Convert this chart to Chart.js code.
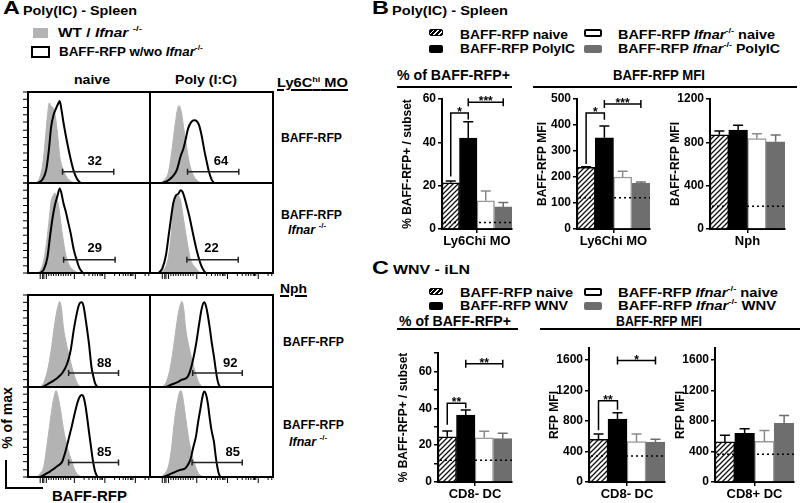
<!DOCTYPE html>
<html>
<head>
<meta charset="utf-8">
<script src="https://cdn.jsdelivr.net/npm/chart.js@4.4.1/dist/chart.umd.min.js"></script>
<style>
  body { margin: 0; width: 800px; height: 503px; position: relative; overflow: hidden; background: #fff;
         font-family: "Liberation Sans", Arial, sans-serif; font-weight: bold; color: #000; }
  .t { position: absolute; white-space: nowrap; line-height: 1; transform-origin: left top; }
  .u { text-decoration: underline; text-decoration-thickness: 2px; text-underline-offset: 2px; }
  .big { font-size: 18px; transform: scaleX(1.3); }
  .sp { font-size: 8px; position: relative; top: -6px; font-style: normal; }
  .sw { position: absolute; box-sizing: border-box; border-radius: 2px; }
  .ln { position: absolute; background: #000; }
  canvas { position: absolute; }
</style>
</head>
<body>

<!-- panel A -->
<div class="t big" style="left:3px;top:-1px">A</div>
<div class="t" data-w="114" style="left:23px;top:4px;font-size:13px">Poly(IC) - Spleen</div>
<div class="sw" style="left:33px;top:28px;width:15px;height:10px;background:#b3b3b3;border-radius:0"></div>
<div class="t" data-w="84" style="left:58px;top:27px;font-size:12.5px">WT / <i>Ifnar</i> <span class="sp">-/-</span></div>
<div class="sw" style="left:31px;top:46px;width:19px;height:12px;border:2px solid #000;border-radius:0"></div>
<div class="t" data-w="144" style="left:59px;top:46px;font-size:12.5px">BAFF-RFP w/wo <i>Ifnar</i><span class="sp">-/-</span></div>
<div class="t" data-w="36" style="left:74px;top:73px;font-size:13px">naive</div>
<div class="t" data-w="62" style="left:175px;top:73px;font-size:13px">Poly (I:C)</div>
<div class="t u" data-w="71" style="left:277px;top:76px;font-size:13px">Ly6C<span style="font-size:8px;position:relative;top:-5px">hi</span> MO</div>
<div class="t" data-w="61" style="left:281px;top:132px;font-size:12.5px">BAFF-RFP</div>
<div class="t" data-w="61" style="left:281px;top:209px;font-size:12.5px">BAFF-RFP</div>
<div class="t" style="left:288px;top:224px;font-size:12.5px"><i>Ifnar</i> <span class="sp">-/-</span></div>
<div class="t u" data-w="27" style="left:280px;top:282px;font-size:13px">Nph</div>
<div class="t" data-w="61" style="left:283px;top:336px;font-size:12.5px">BAFF-RFP</div>
<div class="t" data-w="61" style="left:283px;top:419px;font-size:12.5px">BAFF-RFP</div>
<div class="t" style="left:289px;top:436px;font-size:12.5px"><i>Ifnar</i> <span class="sp">-/-</span></div>
<div class="t" style="left:-25px;top:411px;font-size:14px;width:64px;text-align:center;transform:rotate(-90deg);transform-origin:center">% of max</div>
<div class="ln" style="left:5px;top:460px;width:2px;height:29px"></div>
<div class="ln" style="left:5px;top:487px;width:38px;height:2px"></div>
<div class="t" data-w="75" style="left:52px;top:489px;font-size:14px">BAFF-RFP</div>

<!-- panel B -->
<div class="t big" style="left:372px;top:-1px">B</div>
<div class="t" data-w="116" style="left:392px;top:4px;font-size:13px">Poly(IC) - Spleen</div>
<div class="sw" style="left:429px;top:29px;width:14px;height:7px;background:repeating-linear-gradient(135deg,#000 0 2.2px,#fff 2.2px 3.4px);border:1px solid #000"></div>
<div class="sw" style="left:429px;top:45px;width:14px;height:8px;background:#000"></div>
<div class="sw" style="left:584px;top:29px;width:18px;height:8px;border:2px solid #000"></div>
<div class="sw" style="left:584px;top:45px;width:18px;height:8px;background:#6e6e6e"></div>
<div class="t" data-w="108" style="left:460px;top:29px;font-size:12.5px">BAFF-RFP naive</div>
<div class="t" data-w="115" style="left:460px;top:43px;font-size:12.5px">BAFF-RFP PolyIC</div>
<div class="t" data-w="157" style="left:618px;top:29px;font-size:12.5px">BAFF-RFP <i>Ifnar</i><span class="sp">-/-</span> naive</div>
<div class="t" data-w="162" style="left:618px;top:43px;font-size:12.5px">BAFF-RFP <i>Ifnar</i><span class="sp">-/-</span> PolyIC</div>
<div class="t" data-w="113" style="left:397px;top:68px;font-size:14px">% of BAFF-RFP+</div>
<div class="ln" style="left:397px;top:86px;width:115px;height:2px"></div>
<div class="t" data-w="92" style="left:613px;top:68px;font-size:14px">BAFF-RFP MFI</div>
<div class="ln" style="left:533px;top:86px;width:264px;height:2px"></div>

<!-- panel C -->
<div class="t big" style="left:372px;top:259px">C</div>
<div class="t" data-w="77" style="left:393px;top:263px;font-size:13px">WNV - iLN</div>
<div class="sw" style="left:429px;top:288px;width:14px;height:7px;background:repeating-linear-gradient(135deg,#000 0 2.2px,#fff 2.2px 3.4px);border:1px solid #000"></div>
<div class="sw" style="left:429px;top:302px;width:14px;height:8px;background:#000"></div>
<div class="sw" style="left:584px;top:288px;width:18px;height:8px;border:2px solid #000"></div>
<div class="sw" style="left:584px;top:302px;width:18px;height:8px;background:#6e6e6e"></div>
<div class="t" data-w="113" style="left:460px;top:287px;font-size:12.5px">BAFF-RFP naive</div>
<div class="t" data-w="108" style="left:460px;top:300px;font-size:12.5px">BAFF-RFP WNV</div>
<div class="t" data-w="160" style="left:618px;top:287px;font-size:12.5px">BAFF-RFP <i>Ifnar</i><span class="sp">-/-</span> naive</div>
<div class="t" data-w="158" style="left:618px;top:300px;font-size:12.5px">BAFF-RFP <i>Ifnar</i><span class="sp">-/-</span> WNV</div>
<div class="t" data-w="112" style="left:399px;top:314px;font-size:14px">% of BAFF-RFP+</div>
<div class="ln" style="left:397px;top:328px;width:121px;height:2px"></div>
<div class="t" data-w="86" style="left:616px;top:314px;font-size:14px">BAFF-RFP MFI</div>
<div class="ln" style="left:540px;top:328px;width:260px;height:2px"></div>

<script>
// stretch each label to the width it has in the original figure
document.querySelectorAll('.t[data-w]').forEach(el => {
  const w = el.getBoundingClientRect().width;
  el.style.transform = 'scaleX(' + (+el.dataset.w / w).toFixed(3) + ')';
});

// ---- panel A: flow histograms, x = BAFF-RFP channel (display units 0-100), y = % of max
// grey = WT / Ifnar-/- control, black = BAFF-RFP (w/wo Ifnar-/-)
const lyRfpNaiveGrey  = [[6,0],[9,4],[12,20],[14,45],[16,75],[17.5,88],[19,84],[21,82],[23,68],[24.5,50],[26,30],[28,18],[31,8],[35,2],[40,0]];
const lyRfpNaiveBlack = [[8,0],[12,4],[15,15],[17,35],[19,62],[21,75],[23,82],[25,88],[26,90],[27.5,80],[29,67],[32,45],[35,26],[37.5,13],[40,5],[43,0]];
const lyRfpPicGrey    = [[9,0],[12,4],[15,12],[18,38],[20.5,65],[22.5,82],[23.6,85],[25.5,78],[28,55],[30,38],[32,22],[35,9],[39,2],[42,0]];
const lyRfpPicBlack   = [[10,0],[15,3],[19,8],[22,15],[25,30],[27,37],[29,48],[31,60],[33.5,67],[36,69],[38,68],[40,63],[42,52],[44,37],[46,24],[48,12],[50,4],[52,0]];
const lyKoNaiveGrey   = [[8,0],[11,5],[14,22],[17,55],[19,80],[21,87],[22,89],[23.5,84],[25,75],[27,55],[28.5,40],[31,20],[34,8],[37.5,3],[41,0]];
const lyKoNaiveBlack  = [[10,0],[13,4],[16,18],[18,40],[20,60],[22,75],[24,85],[26,94],[27.5,88],[29,78],[31,68],[33,56],[35,44],[37.5,26],[40,14],[42,6],[45,0]];
const lyKoPicGrey     = [[8,0],[12,5],[15,18],[17,40],[19,70],[21,83],[22,87],[23.5,85],[25,80],[27,62],[29,45],[31,28],[33,15],[37.5,5],[41,0]];
const lyKoPicBlack    = [[7,0],[10,5],[13,20],[15,40],[17,60],[19,78],[21,86],[23,88],[25,92],[26.5,90],[28,84],[30,74],[32,63],[34,50],[36,37],[38,25],[40,15],[42,7],[45,0]];
const nphRfpNaiveGrey  = [[10,0],[13,5],[16,18],[19,40],[21,60],[23,78],[25,90],[26,93],[27.5,85],[29,65],[31,50],[33,38],[35,27],[37.5,15],[40,5],[43,0]];
const nphRfpNaiveBlack = [[12,0],[16,3],[21,7],[25,11],[28,15],[32,25],[35,40],[37.5,62],[40,80],[42,90],[44,92],[45.5,88],[47,76],[48.5,62],[50,47],[52,22],[54,9],[55,4],[57,0]];
const nphRfpPicGrey    = [[10,0],[13,5],[16,18],[19,42],[21,62],[23,80],[25,91],[26,93],[27.5,84],[29,64],[31,48],[33,36],[35,25],[37.5,13],[40,4],[43,0]];
const nphRfpPicBlack   = [[13,0],[18,3],[22,5],[26,8],[30.5,11],[34,24],[37.5,47],[40,69],[42,85],[44,92],[45.5,88],[47,78],[48.5,65],[50,50],[52,33],[54,14],[55.5,4],[57,0]];
const nphKoNaiveGrey   = [[7,0],[10,4],[13,12],[15,30],[17.5,55],[19.5,75],[21.5,90],[23,96],[24.5,90],[26.5,76],[29,54],[32,35],[34,25],[36,17],[38,9],[40,4],[44,0]];
const nphKoNaiveBlack  = [[10,0],[14,3],[18,6],[21,9],[25,13],[28,17],[30,25],[32,35],[34,46],[36,57],[38,69],[40,80],[42,88],[44,91],[45.5,89],[47,80],[48.5,66],[50,50],[51.5,35],[53,20],[55,6],[57,0]];
const nphKoPicGrey     = [[9,0],[12,4],[15,12],[17.5,32],[19.5,58],[21.5,78],[23.5,92],[25,96],[26.5,90],[28,76],[30,56],[32,38],[34,26],[36,16],[38,8],[40,3],[44,0]];
const nphKoPicBlack    = [[11,0],[16,3],[21,6],[25,8],[28,9],[31,14],[33,20],[35,32],[37.5,46],[39,60],[41,76],[42.5,88],[44,95],[45.5,92],[47,82],[48.5,66],[50,52],[52,39],[53.5,22],[55.5,6],[57,0]];

// gates (channel range), gate % and where its number sits
const gateRange  = [[28.3,70.3],[30.5,72.2],[29.2,71.4],[30,71.7],[33.3,74.2],[34.7,75],[33.3,74.2],[34.2,75]];
const gateLevel  = [12.3,12.3,14.8,14.8,15.3,15.3,16,16];
const gatePct    = [32, 64, 29, 22, 88, 92, 85, 85];
const gateLabelX = [54.7, 57.8, 54.7, 50, 62.5, 65.3, 62.5, 67.2];
const gateLabelY = [24, 24, 27, 27, 26, 26, 27, 27];

const histYTicks = [0,8,17,25,33,42,50,58,67,75,83,92,100];
const histXMajor = [10,12,13,15,38,63,88];
const histXMinor = [17,19,21,23,25,27,29,31,33,35, 46,50,53,55,57,59,60,61, 71,75,78,80,82,84,85,86, 96,99];

// ---- panels B and C: bar charts (mean, SEM, dotted background level)
const groupsB = ['BAFF-RFP naive', 'BAFF-RFP PolyIC', 'BAFF-RFP Ifnar-/- naive', 'BAFF-RFP Ifnar-/- PolyIC'];
const groupsC = ['BAFF-RFP naive', 'BAFF-RFP WNV', 'BAFF-RFP Ifnar-/- naive', 'BAFF-RFP Ifnar-/- WNV'];

const pctLy6C     = [21.3, 42, 13, 10.2];
const pctLy6CSem  = [0.8, 7.5, 4.5, 2];
const pctLy6CBg   = 3;
const mfiLy6C     = [237, 351, 200, 176];
const mfiLy6CSem  = [2, 45, 22, 5];
const mfiLy6CBg   = 120;
const mfiNph      = [870, 912, 834, 805];
const mfiNphSem   = [35, 45, 45, 63];
const mfiNphBg    = 210;

const pctCD8n     = [24.5, 36.3, 24, 23.5];
const pctCD8nSem  = [3.2, 2.8, 3.5, 3];
const pctCD8nBg   = 11.8;
const mfiCD8n     = [562, 825, 530, 525];
const mfiCD8nSem  = [70, 85, 100, 35];
const mfiCD8nBg   = 343;
const mfiCD8p     = [526, 640, 535, 770];
const mfiCD8pSem  = [88, 60, 140, 105];
const mfiCD8pBg   = 365;

// significance: groups a-b, bar level y, leg ends l0/l1 (hook) or capped bar (span)
const sigPctLy6C = [{a:0,b:1,y:53.5,l0:24.2,l1:50.5,kind:'hook',txt:'*'}, {a:1,b:3,y:58.5,kind:'span',txt:'***'}];
const sigMfiLy6C = [{a:0,b:1,y:446,l0:250,l1:420,kind:'hook',txt:'*'}, {a:1,b:3,y:481,kind:'span',txt:'***'}];
const sigPctCD8n = [{a:0,b:1,y:42.8,l0:31,l1:40,kind:'hook',txt:'**'}, {a:1,b:3,y:64.2,kind:'span',txt:'**'}];
const sigMfiCD8n = [{a:0,b:1,y:1068,l0:680,l1:950,kind:'hook',txt:'**'}, {a:1,b:3,y:1595,kind:'span',txt:'*'}];

const F = '"Liberation Sans", Arial, sans-serif';

function addCanvas(x, y, w, h) {
  const c = document.createElement('canvas');
  c.width = w; c.height = h;
  c.style.left = x + 'px'; c.style.top = y + 'px';
  document.body.appendChild(c);
  return c;
}

function histCell(k, box, grey, black, leftTicks, bottomTicks) {
  const [cx, cy, cw, ch] = box;
  const c = addCanvas(cx - 8, cy - 2, cw + 10, ch + 10);
  const pts = a => a.map(p => ({x: p[0], y: p[1]}));
  new Chart(c, {
    type: 'line',
    data: {
      datasets: [
        {data: pts(black), borderColor: '#000', borderWidth: 2, fill: false, pointRadius: 0, cubicInterpolationMode: 'monotone'},
        {data: pts(grey), borderColor: '#b3b3b3', backgroundColor: '#b3b3b3', borderWidth: 1, fill: 'origin', pointRadius: 0, cubicInterpolationMode: 'monotone'}
      ]
    },
    options: {
      responsive: false, animation: false,
      layout: {padding: {left: 8, top: 2, right: 2, bottom: 8}},
      plugins: {legend: {display: false}, tooltip: {enabled: false}},
      scales: {
        x: {type: 'linear', min: 0, max: 100, display: false},
        y: {min: 0, max: 100, display: false}
      }
    },
    plugins: [{
      id: 'gate' + k,
      afterDatasetsDraw(chart) {
        const {ctx, chartArea: a, scales: {x, y}} = chart;
        ctx.save();
        ctx.strokeStyle = '#222'; ctx.lineWidth = 1.5;
        const gy = y.getPixelForValue(gateLevel[k]);
        const g0 = x.getPixelForValue(gateRange[k][0]), g1 = x.getPixelForValue(gateRange[k][1]);
        ctx.beginPath();
        ctx.moveTo(g0, gy); ctx.lineTo(g1, gy);
        ctx.moveTo(g0, gy - 3); ctx.lineTo(g0, gy + 3);
        ctx.moveTo(g1, gy - 3); ctx.lineTo(g1, gy + 3);
        ctx.stroke();
        ctx.fillStyle = '#000'; ctx.font = 'bold 13px ' + F;
        ctx.textAlign = 'center'; ctx.textBaseline = 'middle';
        ctx.fillText(gatePct[k], x.getPixelForValue(gateLabelX[k]), y.getPixelForValue(gateLabelY[k]));
        ctx.lineWidth = 2; ctx.strokeStyle = '#000';
        ctx.strokeRect(a.left, a.top, a.right - a.left, a.bottom - a.top);
        ctx.lineWidth = 1;
        ctx.beginPath();
        if (leftTicks) histYTicks.forEach(v => { const py = y.getPixelForValue(v); ctx.moveTo(a.left - 5, py); ctx.lineTo(a.left, py); });
        if (bottomTicks) {
          histXMajor.forEach(v => { const px = x.getPixelForValue(v); ctx.moveTo(px, a.bottom); ctx.lineTo(px, a.bottom + 6); });
          histXMinor.forEach(v => { const px = x.getPixelForValue(v); ctx.moveTo(px, a.bottom); ctx.lineTo(px, a.bottom + 3); });
        }
        ctx.stroke();
        ctx.restore();
      }
    }]
  });
}

histCell(0, [28, 92, 122, 91],  lyRfpNaiveGrey,  lyRfpNaiveBlack,  true,  false);
histCell(1, [150, 92, 123, 91], lyRfpPicGrey,    lyRfpPicBlack,    false, false);
histCell(2, [28, 183, 122, 90], lyKoNaiveGrey,   lyKoNaiveBlack,   true,  true);
histCell(3, [150, 183, 123, 90], lyKoPicGrey,    lyKoPicBlack,     false, true);
histCell(4, [28, 295, 122, 92], nphRfpNaiveGrey, nphRfpNaiveBlack, true,  false);
histCell(5, [150, 295, 123, 92], nphRfpPicGrey,  nphRfpPicBlack,   false, false);
histCell(6, [28, 387, 122, 90], nphKoNaiveGrey,  nphKoNaiveBlack,  true,  true);
histCell(7, [150, 387, 123, 90], nphKoPicGrey,   nphKoPicBlack,    false, true);

// hatched fill for the naive bars
function hatch() {
  const p = document.createElement('canvas');
  p.width = 5; p.height = 5;
  const g = p.getContext('2d');
  g.fillStyle = '#fff'; g.fillRect(0, 0, 5, 5);
  g.strokeStyle = '#111'; g.lineWidth = 1.3;
  g.beginPath();
  g.moveTo(0, 5); g.lineTo(5, 0);
  g.moveTo(-1, 1); g.lineTo(1, -1);
  g.moveTo(4, 6); g.lineTo(6, 4);
  g.stroke();
  return g.createPattern(p, 'repeat');
}
const hatchFill = hatch();
const barStyle = [
  {backgroundColor: hatchFill, borderColor: '#000', borderWidth: 1.5},
  {backgroundColor: '#000', borderColor: '#000', borderWidth: 1},
  {backgroundColor: '#fff', borderColor: '#9a9a9a', borderWidth: 1.5},
  {backgroundColor: '#6e6e6e', borderColor: '#6e6e6e', borderWidth: 1}
];
const errColor = ['#000', '#000', '#8a8a8a', '#6e6e6e'];

function barChart(box, o) {
  const [x, y, w, h] = box;
  const c = addCanvas(x, y, w, h);
  new Chart(c, {
    type: 'bar',
    data: {
      labels: [o.cat],
      datasets: o.groups.map((n, i) => Object.assign({label: n, data: [o.vals[i]], categoryPercentage: 1, barPercentage: 1}, barStyle[i]))
    },
    options: {
      responsive: false, animation: false,
      layout: {padding: {top: o.padTop, right: 4, left: 0, bottom: 0}},
      plugins: {legend: {display: false}, tooltip: {enabled: false}},
      scales: {
        x: {
          grid: {drawOnChartArea: false, offset: false, tickLength: 4, color: '#000', lineWidth: 1.5},
          border: {color: '#000', width: 2},
          ticks: {color: '#000', font: {family: F, size: 13, weight: 'bold'}, padding: 1},
          afterFit: s => { s.height = o.xH; }
        },
        y: {
          min: 0, max: o.max,
          afterBuildTicks: s => { s.ticks = o.ticks.map(v => ({value: v})); },
          ticks: {color: '#000', font: {family: F, size: 12, weight: 'bold'}, padding: 2,
                  callback: v => o.labeled.includes(v) ? v : ''},
          grid: {drawOnChartArea: false, tickLength: 4, color: '#000', lineWidth: 1.5},
          border: {color: '#000', width: 2},
          title: {display: true, text: o.title, color: '#000', font: {family: F, size: 12, weight: 'bold'}, padding: {top: 2, bottom: 0}},
          afterFit: s => { s.width = o.yW; }
        }
      }
    },
    plugins: [{
      id: 'extras',
      afterDatasetsDraw(chart) {
        const {ctx, chartArea: a} = chart;
        const ys = chart.scales.y;
        ctx.save();
        // error bars (upper SEM)
        chart.data.datasets.forEach((ds, i) => {
          const bar = chart.getDatasetMeta(i).data[0];
          const y0 = ys.getPixelForValue(o.vals[i]), y1 = ys.getPixelForValue(o.vals[i] + o.sem[i]);
          ctx.strokeStyle = errColor[i]; ctx.lineWidth = 1.5;
          ctx.beginPath();
          ctx.moveTo(bar.x, y0); ctx.lineTo(bar.x, y1);
          ctx.moveTo(bar.x - 5, y1); ctx.lineTo(bar.x + 5, y1);
          ctx.stroke();
        });
        // background level
        ctx.strokeStyle = '#000'; ctx.lineWidth = 1.5; ctx.setLineDash([2, 3]);
        const by = ys.getPixelForValue(o.bg);
        ctx.beginPath(); ctx.moveTo(a.left + 2, by); ctx.lineTo(a.right, by); ctx.stroke();
        ctx.setLineDash([]);
        // significance brackets
        ctx.strokeStyle = '#000'; ctx.fillStyle = '#000';
        ctx.font = 'bold 12px ' + F; ctx.textAlign = 'center'; ctx.textBaseline = 'alphabetic';
        (o.sig || []).forEach(s => {
          const x0 = chart.getDatasetMeta(s.a).data[0].x, x1 = chart.getDatasetMeta(s.b).data[0].x;
          const py = ys.getPixelForValue(s.y);
          ctx.beginPath();
          if (s.kind === 'hook') {
            ctx.moveTo(x0, ys.getPixelForValue(s.l0)); ctx.lineTo(x0, py);
            ctx.lineTo(x1, py); ctx.lineTo(x1, ys.getPixelForValue(s.l1));
          } else {
            ctx.moveTo(x0, py); ctx.lineTo(x1, py);
            ctx.moveTo(x0, py - 4); ctx.lineTo(x0, py + 4);
            ctx.moveTo(x1, py - 4); ctx.lineTo(x1, py + 4);
          }
          ctx.stroke();
          ctx.fillText(s.txt, (x0 + x1) / 2, py + 3);
        });
        ctx.restore();
      }
    }]
  });
}

barChart([398, 79, 118, 172], {cat: 'Ly6Chi MO', groups: groupsB, vals: pctLy6C, sem: pctLy6CSem, bg: pctLy6CBg, sig: sigPctLy6C,
  max: 60, ticks: [0, 20, 40, 60], labeled: [0, 20, 40, 60], title: '% BAFF-RFP+ / subset', yW: 44, xH: 22, padTop: 20});
barChart([533, 79, 121, 172], {cat: 'Ly6Chi MO', groups: groupsB, vals: mfiLy6C, sem: mfiLy6CSem, bg: mfiLy6CBg, sig: sigMfiLy6C,
  max: 500, ticks: [0, 100, 200, 300, 400, 500], labeled: [0, 100, 200, 300, 400, 500], title: 'BAFF-RFP MFI', yW: 44, xH: 22, padTop: 20});
barChart([666, 79, 123, 172], {cat: 'Nph', groups: groupsB, vals: mfiNph, sem: mfiNphSem, bg: mfiNphBg,
  max: 1200, ticks: [0, 400, 800, 1200], labeled: [0, 400, 800, 1200], title: 'BAFF-RFP MFI', yW: 44, xH: 22, padTop: 20});

barChart([394, 341, 122, 163], {cat: 'CD8- DC', groups: groupsC, vals: pctCD8n, sem: pctCD8nSem, bg: pctCD8nBg, sig: sigPctCD8n,
  max: 70, ticks: [0, 10, 20, 30, 40, 50, 60, 70], labeled: [0, 20, 40, 60], title: '% BAFF-RFP+ / subset', yW: 44, xH: 22, padTop: 12});
barChart([545, 338, 124, 166], {cat: 'CD8- DC', groups: groupsC, vals: mfiCD8n, sem: mfiCD8nSem, bg: mfiCD8nBg, sig: sigMfiCD8n,
  max: 1760, ticks: [0, 200, 400, 600, 800, 1000, 1200, 1400, 1600], labeled: [0, 400, 800, 1200, 1600], title: 'RFP MFI', yW: 44, xH: 22, padTop: 10});
barChart([671, 338, 127, 166], {cat: 'CD8+ DC', groups: groupsC, vals: mfiCD8p, sem: mfiCD8pSem, bg: mfiCD8pBg,
  max: 1760, ticks: [0, 200, 400, 600, 800, 1000, 1200, 1400, 1600], labeled: [0, 400, 800, 1200, 1600], title: 'RFP MFI', yW: 44, xH: 22, padTop: 10});
</script>
</body>
</html>
